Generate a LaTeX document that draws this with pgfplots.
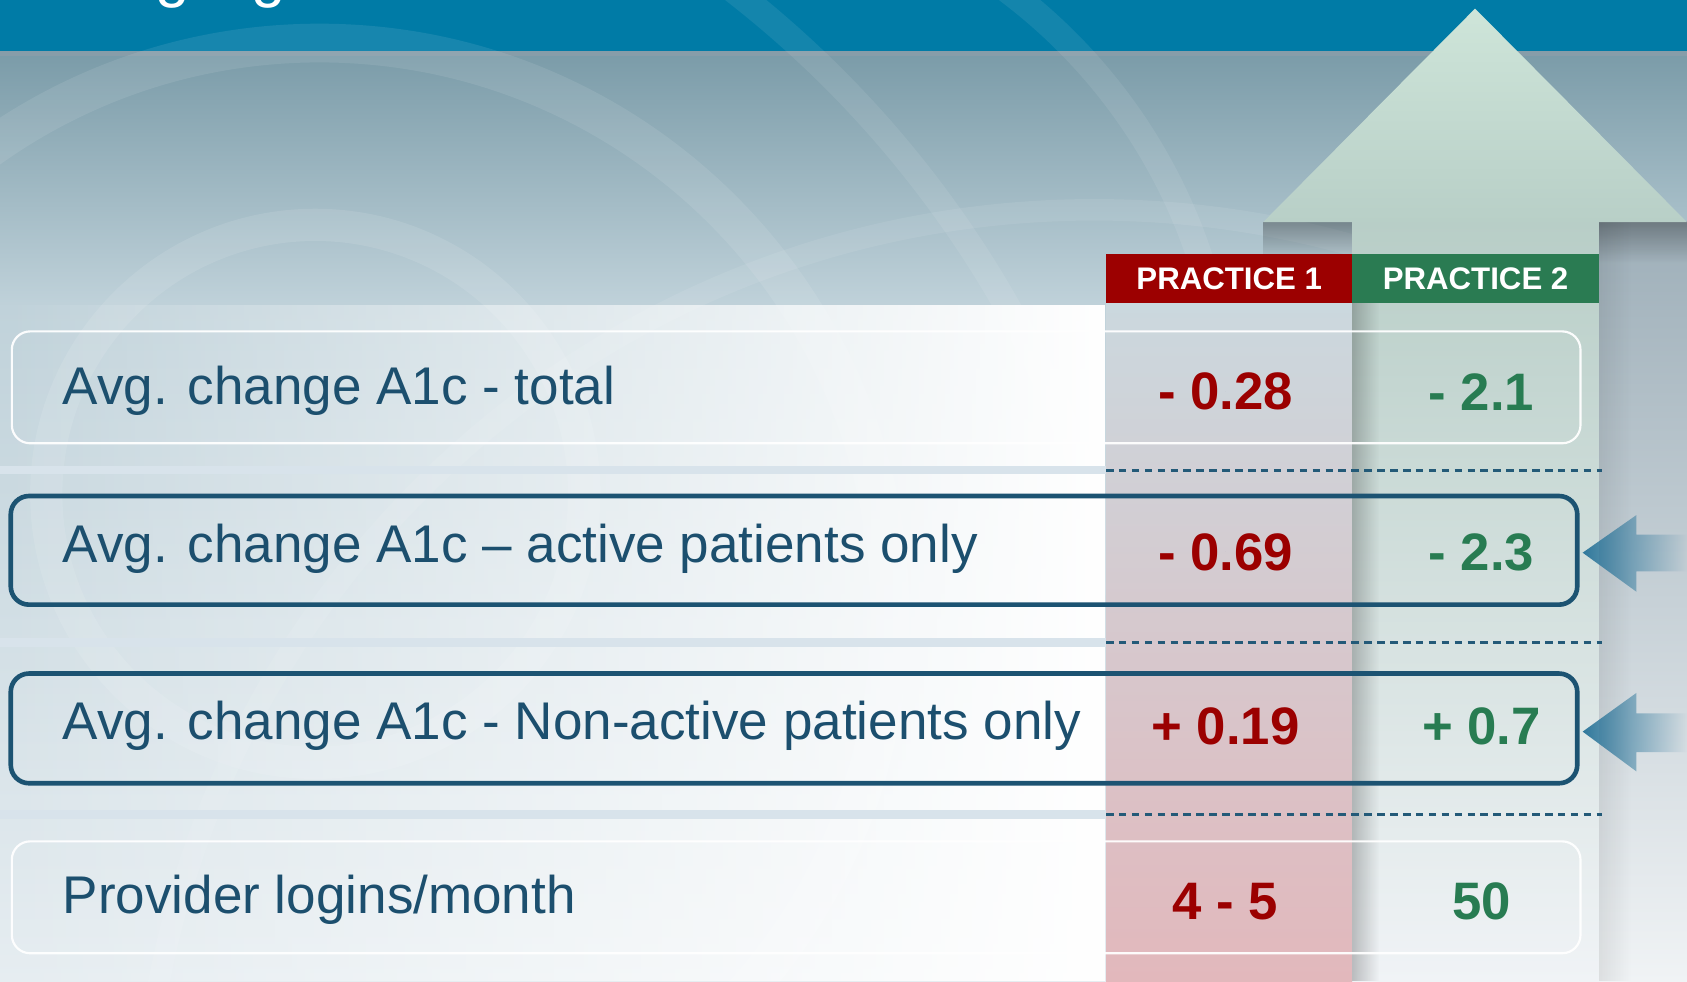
\documentclass[border=0pt]{standalone}
\usepackage{pgfplots}
\pgfplotsset{compat=1.18}
\usepackage{pgfplotstable}
\usepackage{fontspec}
\setmainfont{Liberation Sans}
\usetikzlibrary{fadings}
\tikzfading[name=myfaderight, left color=transparent!0, right color=transparent!100]
\tikzfading[name=myfadeleft, left color=transparent!100, right color=transparent!0]
\tikzfading[name=myfadedown, top color=transparent!0, bottom color=transparent!100]

\definecolor{band}{RGB}{0,123,166}
\definecolor{bandline}{RGB}{138,158,170}
\definecolor{bgA}{RGB}{122,155,168}
\definecolor{bgB}{RGB}{192,210,218}
\definecolor{bgC}{RGB}{230,237,241}
\definecolor{labelblue}{RGB}{28,79,110}
\definecolor{boxblue}{RGB}{28,83,114}
\definecolor{dashcol}{RGB}{35,90,120}
\definecolor{pred}{RGB}{155,0,0}
\definecolor{pgreen}{RGB}{40,124,82}
\definecolor{hred}{RGB}{156,0,0}
\definecolor{hgreen}{RGB}{42,123,82}
\definecolor{mintA}{RGB}{206,229,217}
\definecolor{mintB}{RGB}{184,207,199}
\definecolor{shaftA}{RGB}{184,206,199}
\definecolor{shaftB}{RGB}{206,216,219}
\definecolor{shaftC}{RGB}{240,243,246}
\definecolor{redcA}{RGB}{203,216,222}
\definecolor{redcB}{RGB}{214,209,215}
\definecolor{redcC}{RGB}{226,184,188}
\definecolor{rgtA}{RGB}{158,175,185}
\definecolor{rgtB}{RGB}{206,216,223}
\definecolor{rgtC}{RGB}{240,243,245}
\definecolor{stripcol}{RGB}{216,227,235}
\definecolor{arrowblue}{RGB}{48,120,156}

\newcommand\labfont{\fontsize{24.65pt}{28pt}\selectfont}
\newcommand\valfont{\bfseries\fontsize{24.5pt}{28pt}\selectfont}
\newcommand\hdrfont{\bfseries\fontsize{14.5pt}{17pt}\selectfont}
\newcommand\ttlfont{\fontsize{28.75pt}{34pt}\selectfont}

\pgfplotstableread[col sep=comma]{
xa,xb,y,pone,ptwo
1139,1377,364,- 0.28,- 2.1
1139,1377,513,- 0.69,- 2.3
1139,1377,675,+ 0.19,+ 0.7
1139,1377,838,4 - 5,50
}\valtable

\begin{document}
\begin{tikzpicture}
\begin{axis}[
  width=784pt, height=456pt, scale only axis,
  xmin=0, xmax=1568, ymin=0, ymax=912, y dir=reverse,
  hide axis, clip=true,
]
\coordinate (BL) at (axis cs:0,912);
\coordinate (TR) at (axis cs:1568,0);
% background
\shade[top color=bgA, bottom color=bgB] (axis cs:0,47) rectangle (axis cs:1568,285);
\shade[top color=bgB, bottom color=bgC] (axis cs:0,284) rectangle (axis cs:1568,912);
\fill[band] (axis cs:0,0) rectangle (axis cs:1568,47);
\fill[bandline, opacity=0.8] (axis cs:0,47) rectangle (axis cs:1568,52);
% faint rings
\draw[white, opacity=0.09, line width=18pt] (axis cs:297,570) circle[radius=265pt];
\draw[white, opacity=0.10, line width=15pt] (axis cs:293,459) circle[radius=125pt];
\draw[white, opacity=0.08, line width=12pt] (axis cs:77,771) circle[radius=493.5pt];
\begin{scope}
\clip (axis cs:800,0) rectangle (axis cs:1400,400);
\draw[white, opacity=0.08, line width=12pt] (axis cs:630,400) circle[radius=255.5pt];
\end{scope}
\draw[white, opacity=0.08, line width=10pt] (axis cs:1017,1080) circle[radius=442.5pt];
% right area beside the arrow shaft
\shade[top color=rgtA, middle color=rgtB, bottom color=rgtC] (axis cs:1486,206) rectangle (axis cs:1568,912);
% left white panel
\fill[white, path fading=myfadeleft] (axis cs:0,283.5) rectangle (axis cs:1028,912);
% light strips
\fill[stripcol] (axis cs:0,433) rectangle (axis cs:1028,441);
\fill[stripcol] (axis cs:0,593) rectangle (axis cs:1028,601);
\fill[stripcol] (axis cs:0,753) rectangle (axis cs:1028,761);
% practice 1 column
\shade[top color=redcA, middle color=redcB, bottom color=redcC] (axis cs:1028,281) rectangle (axis cs:1257,912);
% arrow shaft
\shade[top color=shaftA, middle color=shaftB, bottom color=shaftC] (axis cs:1257,206) rectangle (axis cs:1486,912);
\fill[black, opacity=0.22, path fading=myfaderight] (axis cs:1257,281) rectangle (axis cs:1282,912);
\fill[black, opacity=0.08, path fading=myfaderight] (axis cs:1486,206) rectangle (axis cs:1516,912);
% arrow head and its shadow
\fill[black, opacity=0.30, path fading=myfadedown] (axis cs:1174,206) rectangle (axis cs:1257,244);
\fill[black, opacity=0.30, path fading=myfadedown] (axis cs:1486,206) rectangle (axis cs:1568,244);
\shade[top color=mintA, bottom color=mintB] (axis cs:1174,206.5) -- (axis cs:1371,8) -- (axis cs:1568,206.5) -- cycle;
% headers
\fill[hred] (axis cs:1028,236) rectangle (axis cs:1257,281.5);
\fill[hgreen] (axis cs:1257,236) rectangle (axis cs:1486,281.5);
\node[text=white, font=\hdrfont, inner sep=0pt] at (axis cs:1142.5,259) {PRACTICE 1};
\node[text=white, font=\hdrfont, inner sep=0pt] at (axis cs:1371.5,259) {PRACTICE 2};
% dashed separators
\draw[dashcol, line width=1.25pt, dash pattern=on 3.5pt off 2.5pt] (axis cs:1028,437) -- (axis cs:1489,437);
\draw[dashcol, line width=1.25pt, dash pattern=on 3.5pt off 2.5pt] (axis cs:1028,597) -- (axis cs:1489,597);
\draw[dashcol, line width=1.25pt, dash pattern=on 3.5pt off 2.5pt] (axis cs:1028,757) -- (axis cs:1489,757);
% row boxes
\draw[white, opacity=0.95, line width=1pt, rounded corners=8.5pt] (axis cs:11,308) rectangle (axis cs:1469,412);
\draw[boxblue, line width=2.15pt, rounded corners=8.5pt] (axis cs:10,461) rectangle (axis cs:1466,562);
\draw[boxblue, line width=2.15pt, rounded corners=8.5pt] (axis cs:10,626) rectangle (axis cs:1466,728);
\draw[white, opacity=0.95, line width=1pt, rounded corners=8.5pt] (axis cs:11,782) rectangle (axis cs:1469,886);
% pointer arrows
\fill[arrowblue, path fading=myfaderight] (axis cs:1471,513.7) -- (axis cs:1521,478.7) -- (axis cs:1521,497) -- (axis cs:1568,497) -- (axis cs:1568,531) -- (axis cs:1521,531) -- (axis cs:1521,550) -- cycle;
\fill[arrowblue, path fading=myfaderight] (axis cs:1471,680) -- (axis cs:1521,644) -- (axis cs:1521,663) -- (axis cs:1568,663) -- (axis cs:1568,699) -- (axis cs:1521,699) -- (axis cs:1521,717) -- cycle;
% row labels
\node[anchor=base west, inner sep=0pt, text=labelblue, font=\labfont] at (axis cs:58,376) {Avg. change A1c - total};
\node[anchor=base west, inner sep=0pt, text=labelblue, font=\labfont] at (axis cs:58,523) {Avg. change A1c – active patients only};
\node[anchor=base west, inner sep=0pt, text=labelblue, font=\labfont] at (axis cs:58,687) {Avg. change A1c - Non-active patients only};
\node[anchor=base west, inner sep=0pt, text=labelblue, font=\labfont] at (axis cs:58,849.5) {Provider logins/month};
% title (mostly cut off at the top, as in the reference)
\node[anchor=base west, inner sep=0pt, text=white, font=\ttlfont] at (axis cs:90,-4) {Highlights};
% values
\addplot[only marks, mark=*, mark size=0pt, mark options={draw=none, fill=none},
  nodes near coords, point meta=explicit symbolic,
  every node near coord/.append style={anchor=center, inner sep=0pt, font=\valfont, text=pred}]
  table[x=xa, y=y, meta=pone] {\valtable};
\addplot[only marks, mark=*, mark size=0pt, mark options={draw=none, fill=none},
  nodes near coords, point meta=explicit symbolic,
  every node near coord/.append style={anchor=center, inner sep=0pt, font=\valfont, text=pgreen}]
  table[x=xb, y=y, meta=ptwo] {\valtable};
\end{axis}
\pgfresetboundingbox
\path[use as bounding box] (BL) rectangle (TR);
\end{tikzpicture}
\end{document}
